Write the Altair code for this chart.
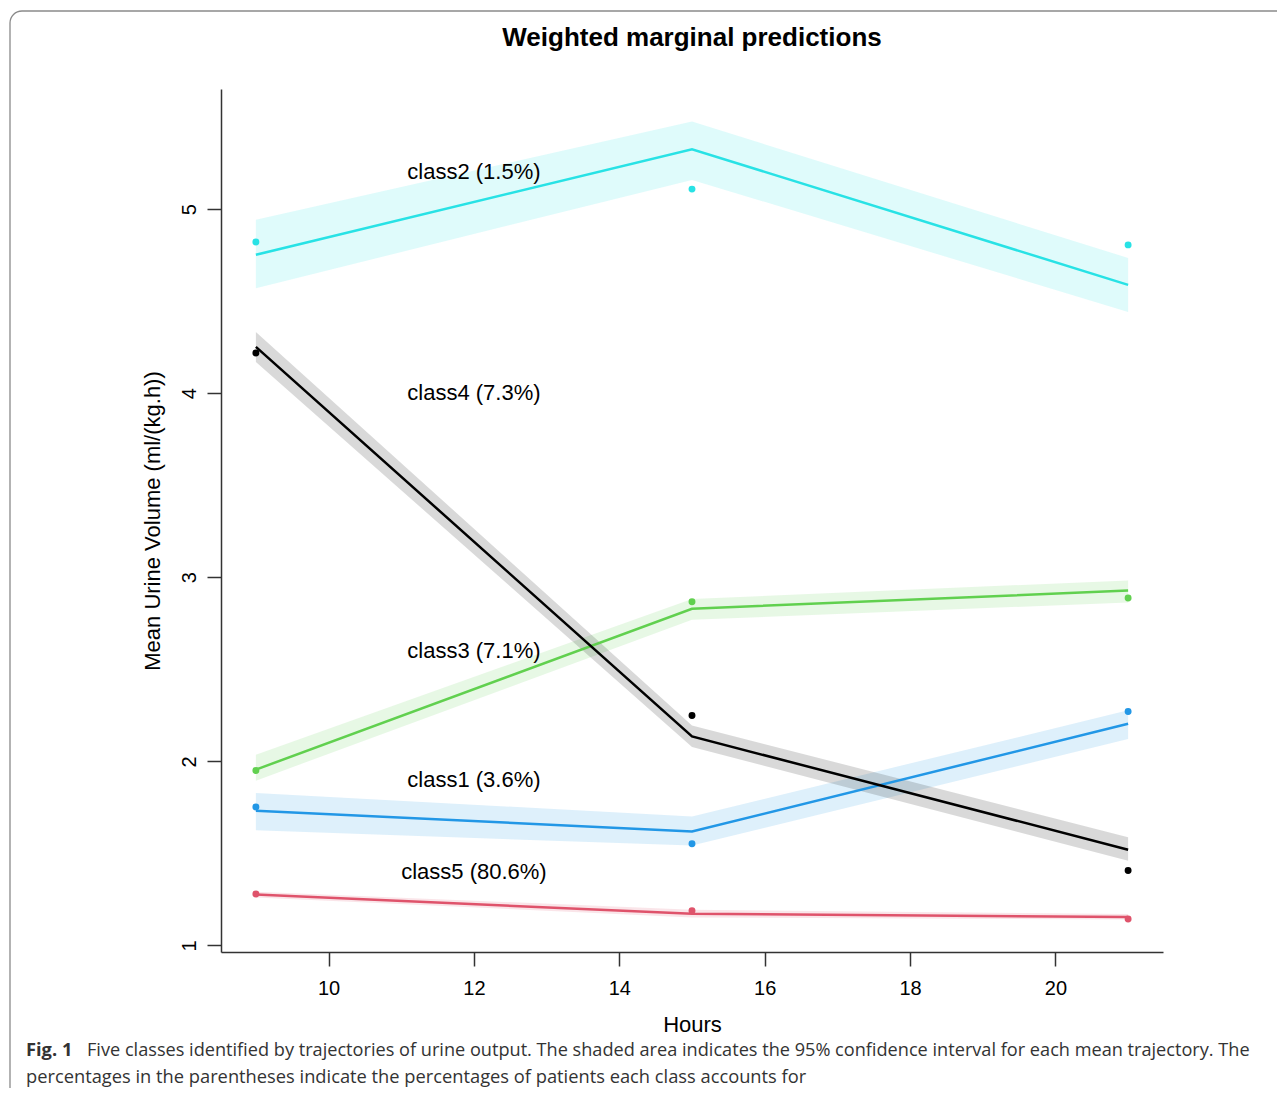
import altair as alt
import pandas as pd

# ---- data ----
hours = [9, 15, 21]
classes = ["class1", "class2", "class3", "class4", "class5"]
colors = ["#2297E6", "#28E2E5", "#61D04F", "#000000", "#DF536B"]

pred_class1 = [1.732, 1.619, 2.204]
pred_class2 = [4.752, 5.326, 4.589]
pred_class3 = [1.955, 2.829, 2.928]
pred_class4 = [4.252, 2.135, 1.520]
pred_class5 = [1.276, 1.172, 1.154]

lower_class1 = [1.625, 1.542, 2.121]
lower_class2 = [4.571, 5.159, 4.442]
lower_class3 = [1.895, 2.769, 2.863]
lower_class4 = [4.170, 2.078, 1.460]
lower_class5 = [1.260, 1.152, 1.140]

upper_class1 = [1.828, 1.700, 2.277]
upper_class2 = [4.942, 5.476, 4.735]
upper_class3 = [2.036, 2.882, 2.983]
upper_class4 = [4.333, 2.195, 1.587]
upper_class5 = [1.292, 1.194, 1.170]

obs_class1 = [1.752, 1.552, 2.271]
obs_class2 = [4.822, 5.109, 4.806]
obs_class3 = [1.950, 2.867, 2.887]
obs_class4 = [4.219, 2.249, 1.407]
obs_class5 = [1.279, 1.188, 1.143]

label_text = ["class1 (3.6%)", "class2 (1.5%)", "class3 (7.1%)", "class4 (7.3%)", "class5 (80.6%)"]
label_x = [12, 12, 12, 12, 12]
label_y = [1.9, 5.2, 2.6, 4.0, 1.4]

x_ticks = [10, 12, 14, 16, 18, 20]
y_ticks = [1, 2, 3, 4, 5]

title_text = "Weighted marginal predictions"
caption_bold = "Fig. 1"
caption_line1 = ("Five classes identified by trajectories of urine output. The shaded area indicates "
                 "the 95% confidence interval for each mean trajectory. The")
caption_line2 = "percentages in the parentheses indicate the percentages of patients each class accounts for"

# ---- build tables ----
preds = [pred_class1, pred_class2, pred_class3, pred_class4, pred_class5]
lows = [lower_class1, lower_class2, lower_class3, lower_class4, lower_class5]
ups = [upper_class1, upper_class2, upper_class3, upper_class4, upper_class5]
obss = [obs_class1, obs_class2, obs_class3, obs_class4, obs_class5]

rows = []
for c, p, lo, up, ob in zip(classes, preds, lows, ups, obss):
    for h, pv, lv, uv, ov in zip(hours, p, lo, up, ob):
        rows.append({"cls": c, "hour": h, "pred": pv, "lower": lv, "upper": uv, "obs": ov})
df = pd.DataFrame(rows)
labels_df = pd.DataFrame({"text": label_text, "x": label_x, "y": label_y})
one = pd.DataFrame({"a": [0]})

FONT = "Liberation Sans"
CAPFONT = "Open Sans"
xscale = alt.Scale(domain=[8.52, 21.48], nice=False, zero=False)
yscale = alt.Scale(domain=[0.964, 5.653], nice=False, zero=False)
xaxis = alt.Axis(values=x_ticks, title="Hours", grid=False, format="d",
                 labelBaseline="alphabetic", labelPadding=28,
                 titleY=79, titleBaseline="alphabetic")
yaxis = alt.Axis(values=y_ticks, title="Mean Urine Volume (ml/(kg.h))", grid=False, format="d",
                 labelAngle=-90, labelAlign="center", labelBaseline="middle", labelPadding=18,
                 titleAngle=-90, titleX=-62, titleBaseline="alphabetic")
color = alt.Color("cls:N", scale=alt.Scale(domain=classes, range=colors), legend=None)

border = alt.Chart(one).mark_rect(fill="white", fillOpacity=0, stroke="#8a8a8a",
                                  strokeWidth=1.3, cornerRadius=12).encode(
    x=alt.value(-211), x2=alt.value(1090), y=alt.value(-78), y2=alt.value(1012))

bands = alt.Chart(df).mark_area(opacity=0.15).encode(
    x=alt.X("hour:Q", scale=xscale, axis=xaxis),
    y=alt.Y("lower:Q", scale=yscale, axis=yaxis),
    y2="upper:Q",
    color=color,
)
lines = alt.Chart(df).mark_line(strokeWidth=2.5).encode(
    x=alt.X("hour:Q", scale=xscale, axis=xaxis),
    y=alt.Y("pred:Q", scale=yscale, axis=yaxis),
    color=color,
)
points = alt.Chart(df).mark_circle(size=48, opacity=1).encode(
    x=alt.X("hour:Q", scale=xscale, axis=xaxis),
    y=alt.Y("obs:Q", scale=yscale, axis=yaxis),
    color=color,
)
labels = alt.Chart(labels_df).mark_text(font=FONT, fontSize=22, align="center",
                                        baseline="middle", color="black").encode(
    x=alt.X("x:Q", scale=xscale, axis=xaxis),
    y=alt.Y("y:Q", scale=yscale, axis=yaxis),
    text="text:N",
)
title = alt.Chart(one).mark_text(text=title_text, font=FONT, fontSize=26, fontWeight="bold",
                                 align="center", baseline="alphabetic", color="black").encode(
    x=alt.value(471), y=alt.value(-43))
cap_b = alt.Chart(one).mark_text(text=caption_bold, font=CAPFONT, fontSize=18.3, fontWeight="bold",
                                 align="left", baseline="alphabetic", color="#333333").encode(
    x=alt.value(-195), y=alt.value(967))
cap_1 = alt.Chart(one).mark_text(text=caption_line1, font=CAPFONT, fontSize=18.15,
                                 align="left", baseline="alphabetic", color="#333333").encode(
    x=alt.value(-134), y=alt.value(967))
cap_2 = alt.Chart(one).mark_text(text=caption_line2, font=CAPFONT, fontSize=18.3,
                                 align="left", baseline="alphabetic", color="#333333").encode(
    x=alt.value(-195), y=alt.value(994))

chart = alt.layer(border, bands, lines, points, labels, title, cap_b, cap_1, cap_2).properties(
    width=942, height=863,
    autosize=alt.AutoSizeParams(type="none"),
    padding={"left": 213, "top": 81, "right": 114, "bottom": 136},
).configure_view(strokeWidth=0).configure_axis(
    labelFont=FONT, titleFont=FONT, labelFontSize=20, titleFontSize=22,
    labelColor="black", titleColor="black", titleFontWeight="normal",
    domainColor="#333333", tickColor="#333333", domainWidth=1.5, tickWidth=1.5, tickSize=14,
)

chart.save("out.html", embed_options={"renderer": "svg", "actions": False})
